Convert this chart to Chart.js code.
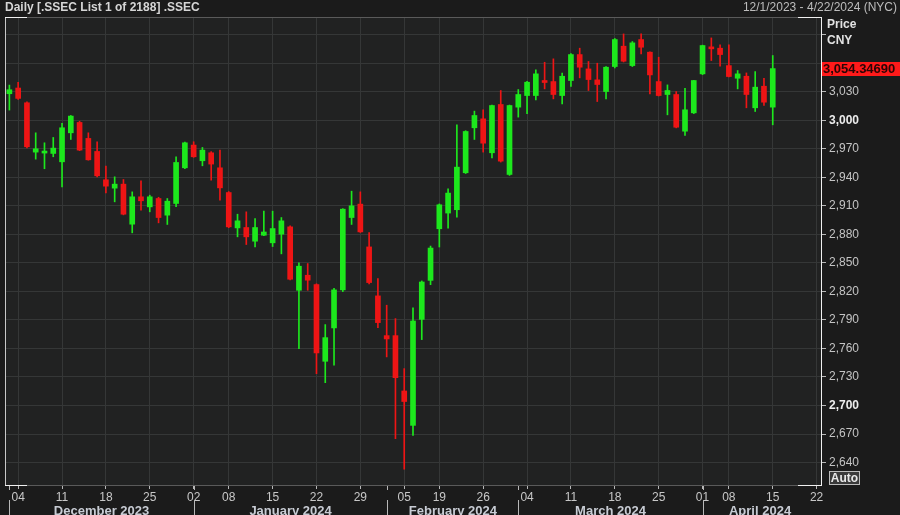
<!DOCTYPE html>
<html>
<head>
<meta charset="utf-8">
<script src="https://cdn.jsdelivr.net/npm/chart.js@4.4.1/dist/chart.umd.min.js"></script>
<style>
html, body { margin: 0; padding: 0; background: #1b1b1b; }
#wrap { width: 900px; height: 515px; }
</style>
</head>
<body>
<div id="wrap"><canvas id="chart" width="900" height="515"></canvas></div>
<script>
const FONT = '"Liberation Sans", Arial, sans-serif';

// trading days on the x axis (the last five are empty space after the last candle)
const dates = [
    '2023-12-01','2023-12-04','2023-12-05','2023-12-06','2023-12-07','2023-12-08','2023-12-11','2023-12-12',
    '2023-12-13','2023-12-14','2023-12-15','2023-12-18','2023-12-19','2023-12-20','2023-12-21','2023-12-22',
    '2023-12-25','2023-12-26','2023-12-27','2023-12-28','2023-12-29',
    '2024-01-02','2024-01-03','2024-01-04','2024-01-05','2024-01-08','2024-01-09','2024-01-10','2024-01-11',
    '2024-01-12','2024-01-15','2024-01-16','2024-01-17','2024-01-18','2024-01-19','2024-01-22','2024-01-23',
    '2024-01-24','2024-01-25','2024-01-26','2024-01-29','2024-01-30','2024-01-31',
    '2024-02-01','2024-02-02','2024-02-05','2024-02-06','2024-02-07','2024-02-08','2024-02-19','2024-02-20',
    '2024-02-21','2024-02-22','2024-02-23','2024-02-26','2024-02-27','2024-02-28','2024-02-29',
    '2024-03-01','2024-03-04','2024-03-05','2024-03-06','2024-03-07','2024-03-08','2024-03-11','2024-03-12',
    '2024-03-13','2024-03-14','2024-03-15','2024-03-18','2024-03-19','2024-03-20','2024-03-21','2024-03-22',
    '2024-03-25','2024-03-26','2024-03-27','2024-03-28','2024-03-29',
    '2024-04-01','2024-04-02','2024-04-03','2024-04-08','2024-04-09','2024-04-10','2024-04-11','2024-04-12',
    '2024-04-15','2024-04-16','2024-04-17','2024-04-18','2024-04-19','2024-04-22'
];

const opens = [
    3027.9, 3033.9, 3018.4, 2966.5, 2965.5, 2965.1, 2956.3, 2986.8, 2997.7, 2980.9, 2967.2, 2937.4, 2928.6, 2932.8,
    2890.7, 2919.5, 2908.9, 2917.7, 2900.2, 2912.5, 2950.0,
    2973.9, 2957.4, 2965.8, 2950.0, 2924.0, 2886.8, 2887.2, 2872.8, 2879.1, 2871.1, 2880.2, 2887.9, 2821.2,
    2837.0, 2827.2, 2746.5, 2781.6, 2821.6, 2897.7, 2911.8, 2866.8, 2815.3,
    2773.5, 2773.5, 2715.3, 2679.1, 2790.6, 2831.6, 2885.9, 2902.4, 2905.9, 2944.8, 2992.1, 3001.5, 2965.8,
    3016.6, 2943.0,
    3013.8, 3026.0, 3026.0, 3041.4, 3040.7, 3026.0, 3041.8, 3069.1, 3054.0, 3042.5, 3030.2, 3056.5, 3077.9,
    3057.5, 3084.9, 3071.6, 3040.7, 3027.1, 3027.1, 2988.5, 3007.8,
    3048.8, 3076.8, 3075.8, 3057.5, 3044.2, 3046.3, 3013.1, 3035.8, 3013.8
];
const highs = [
    3037.0, 3039.8, 3019.5, 2986.8, 2976.3, 2981.9, 2996.7, 3005.0, 2999.0, 2986.8, 2977.4, 2951.8, 2940.5, 2937.7,
    2924.7, 2936.3, 2921.2, 2919.0, 2917.7, 2961.6, 2977.0,
    2977.4, 2971.4, 2967.0, 2968.6, 2925.0, 2901.2, 2903.7, 2896.7, 2904.4, 2904.4, 2897.7, 2889.0, 2850.0,
    2849.3, 2828.0, 2785.1, 2823.3, 2907.0, 2925.4, 2924.7, 2881.9, 2833.5,
    2805.5, 2791.4, 2738.8, 2802.6, 2831.0, 2867.7, 2912.0, 2927.9, 2995.2, 2989.0, 3009.6, 3011.0, 3016.0,
    3031.3, 3016.0,
    3032.3, 3041.0, 3053.0, 3061.0, 3064.6, 3049.5, 3070.0, 3075.8, 3061.8, 3060.0, 3056.5, 3086.0, 3090.8,
    3082.8, 3090.8, 3072.0, 3066.3, 3037.2, 3030.2, 3033.7, 3042.0,
    3079.0, 3086.6, 3079.3, 3079.3, 3052.3, 3049.8, 3051.2, 3044.2, 3068.1
];
const lows = [
    3010.7, 3021.9, 2971.0, 2959.1, 2949.0, 2961.6, 2930.0, 2979.8, 2968.0, 2958.0, 2940.5, 2923.7, 2914.2, 2900.5,
    2881.6, 2905.4, 2903.7, 2892.1, 2890.4, 2909.0, 2949.0,
    2961.0, 2952.1, 2937.0, 2916.0, 2887.0, 2877.4, 2869.3, 2866.8, 2878.5, 2867.2, 2859.5, 2832.0, 2759.8,
    2821.2, 2733.5, 2724.0, 2742.3, 2819.8, 2890.4, 2882.0, 2828.0, 2781.9,
    2751.1, 2665.1, 2633.0, 2668.6, 2769.3, 2827.1, 2866.7, 2886.6, 2898.2, 2944.0, 2979.8, 2966.5, 2960.5,
    2956.0, 2942.0,
    3003.3, 3006.8, 3021.5, 3033.0, 3022.5, 3017.3, 3035.5, 3044.6, 3031.3, 3019.7, 3022.5, 3055.0, 3061.3,
    3056.5, 3069.8, 3027.8, 3025.5, 3005.7, 2992.0, 2984.0, 3007.0,
    3048.0, 3062.8, 3056.8, 3045.5, 3033.0, 3013.1, 3009.2, 3015.5, 2995.2
];
const closes = [
    3032.1, 3023.0, 2972.1, 2970.0, 2967.5, 2970.7, 2992.1, 3004.4, 2968.6, 2958.4, 2941.6, 2930.7, 2932.8, 2901.2,
    2919.5, 2915.3, 2919.5, 2897.7, 2914.9, 2955.6, 2976.3,
    2961.6, 2968.6, 2953.9, 2928.9, 2887.9, 2894.2, 2877.4, 2887.2, 2882.5, 2886.1, 2894.2, 2832.8, 2846.5,
    2831.8, 2755.3, 2771.4, 2821.6, 2906.5, 2910.0, 2882.6, 2829.3, 2787.2,
    2770.0, 2729.3, 2704.2, 2788.9, 2829.9, 2865.6, 2911.1, 2923.4, 2950.7, 2988.2, 3005.0, 2975.9, 3015.5,
    2957.0, 3015.5,
    3027.1, 3040.0, 3048.8, 3039.7, 3027.1, 3046.3, 3069.1, 3055.8, 3042.8, 3037.6, 3055.8, 3084.9, 3062.1,
    3081.4, 3076.8, 3047.7, 3026.0, 3031.3, 2992.7, 3011.0, 3041.8,
    3078.6, 3075.1, 3069.1, 3046.0, 3048.8, 3027.1, 3034.8, 3019.0, 3054.3469
];

const priceTicks = [2640, 2670, 2700, 2730, 2760, 2790, 2820, 2850, 2880, 2910, 2940, 2970, 3000, 3030, 3060, 3090];
const tickDays = [
    '2023-12-04','2023-12-11','2023-12-18','2023-12-25','2024-01-02','2024-01-08','2024-01-15','2024-01-22',
    '2024-01-29','2024-02-05','2024-02-19','2024-02-26','2024-03-04','2024-03-11','2024-03-18','2024-03-25',
    '2024-04-01','2024-04-08','2024-04-15','2024-04-22'
];
const months = ['December 2023', 'January 2024', 'February 2024', 'March 2024', 'April 2024'];
const monthStarts = ['2023-12-01', '2024-01-02', '2024-02-01', '2024-03-01', '2024-04-01'];

const UP = '#1de81d';
const DOWN = '#ee1515';
const candleColors = dates.map((d, i) => i < closes.length && closes[i] < opens[i] ? DOWN : UP);

const frame = {
    id: 'frame',
    beforeDraw: chart => {
        const ctx = chart.ctx, a = chart.chartArea;
        ctx.save();
        ctx.fillStyle = '#1b1b1b';
        ctx.fillRect(0, 0, chart.width, chart.height);
        ctx.fillStyle = '#212222';
        ctx.fillRect(a.left, a.top, a.right - a.left, a.bottom - a.top);
        ctx.restore();
    },
    afterDraw: chart => {
        const ctx = chart.ctx, a = chart.chartArea, xs = chart.scales.x, ys = chart.scales.y;
        ctx.save();
        ctx.lineWidth = 1;
        // plot border
        ctx.strokeStyle = '#5a5a5a';
        ctx.beginPath();
        ctx.moveTo(a.left, a.top + 0.5); ctx.lineTo(a.right, a.top + 0.5);
        ctx.moveTo(a.left, a.bottom + 0.5); ctx.lineTo(a.right, a.bottom + 0.5);
        ctx.stroke();
        ctx.strokeStyle = '#c8c8c8';
        ctx.beginPath();
        ctx.moveTo(a.left + 0.5, a.top); ctx.lineTo(a.left + 0.5, a.bottom + 1);
        ctx.stroke();
        ctx.strokeStyle = '#f0f0f0';
        ctx.beginPath();
        ctx.moveTo(a.right + 0.5, a.top); ctx.lineTo(a.right + 0.5, a.bottom + 1);
        ctx.moveTo(a.left, a.top + 0.5); ctx.lineTo(a.left + 22, a.top + 0.5);
        ctx.moveTo(a.left, a.bottom + 0.5); ctx.lineTo(a.left + 22, a.bottom + 0.5);
        ctx.moveTo(a.right - 23, a.bottom + 0.5); ctx.lineTo(a.right + 1, a.bottom + 0.5);
        ctx.moveTo(a.right - 23, a.top + 0.5); ctx.lineTo(a.right + 1, a.top + 0.5);
        ctx.stroke();

        // month row
        ctx.strokeStyle = '#b8b8b8';
        ctx.fillStyle = '#c8ccd4';
        ctx.font = 'bold 13px ' + FONT;
        ctx.textAlign = 'center';
        ctx.textBaseline = 'middle';
        monthStarts.forEach((m, k) => {
            const i0 = dates.indexOf(m);
            const i1 = k + 1 < monthStarts.length ? dates.indexOf(monthStarts[k + 1]) : dates.length - 1;
            const x0 = Math.round(xs.getPixelForValue(i0)) + 0.5;
            const x1 = xs.getPixelForValue(i1);
            ctx.beginPath();
            ctx.moveTo(x0, a.bottom + 1); ctx.lineTo(x0, a.bottom + 5);
            ctx.moveTo(x0, a.bottom + 15); ctx.lineTo(x0, chart.height);
            ctx.stroke();
            ctx.fillText(months[k], (x0 + x1) / 2, a.bottom + 26);
        });

        // header texts
        ctx.textBaseline = 'middle';
        ctx.textAlign = 'left';
        ctx.fillStyle = '#d6d6d6';
        ctx.font = 'bold 12px ' + FONT;
        ctx.fillText('Daily [.SSEC List 1 of 2188] .SSEC', 5, 8);
        ctx.font = '12px ' + FONT;
        ctx.textAlign = 'right';
        ctx.fillStyle = '#bdbdbd';
        ctx.fillText('12/1/2023 - 4/22/2024 (NYC)', 897, 8);
        ctx.font = 'bold 12px ' + FONT;
        ctx.textAlign = 'left';
        ctx.fillStyle = '#e2e2e2';
        ctx.fillText('Price', 827, 25);
        ctx.fillText('CNY', 827, 41);

        // last price tag
        const last = closes[closes.length - 1];
        const py = Math.round(ys.getPixelForValue(last));
        ctx.fillStyle = '#ff1a1a';
        ctx.fillRect(a.right + 1, py - 7, chart.width - a.right - 1, 14);
        ctx.fillStyle = '#2a0505';
        ctx.font = 'bold 13px ' + FONT;
        ctx.fillText(last.toLocaleString('en-US', { minimumFractionDigits: 5 }), a.right + 2, py + 0.5);

        // Auto button
        ctx.fillStyle = '#3a3a3a';
        ctx.fillRect(829, 472, 30, 13);
        ctx.strokeStyle = '#bcbcbc';
        ctx.strokeRect(829.5, 471.5, 30, 13);
        ctx.fillStyle = '#e8e8e8';
        ctx.font = 'bold 12px ' + FONT;
        ctx.textAlign = 'center';
        ctx.fillText('Auto', 844.5, 478.5);
        ctx.restore();
    }
};

new Chart(document.getElementById('chart'), {
    type: 'bar',
    plugins: [frame],
    data: {
        labels: dates,
        datasets: [
            {
                label: 'High-Low',
                data: dates.map((d, i) => i < closes.length ? [lows[i], highs[i]] : null),
                backgroundColor: candleColors,
                borderWidth: 0,
                barThickness: 1,
                grouped: false
            },
            {
                label: 'Open-Close',
                data: dates.map((d, i) => i < closes.length ? [opens[i], closes[i]] : null),
                backgroundColor: candleColors,
                borderWidth: 0,
                barThickness: 5,
                minBarLength: 2,
                grouped: false
            }
        ]
    },
    options: {
        responsive: false,
        animation: false,
        layout: { padding: { left: 5, top: 17, right: 0, bottom: 0 } },
        plugins: {
            legend: { display: false },
            tooltip: { enabled: false },
            title: { display: false }
        },
        scales: {
            x: {
                type: 'category',
                offset: true,
                border: { display: false },
                grid: { offset: false, color: '#353737', tickLength: 4, tickColor: '#b8b8b8' },
                ticks: {
                    autoSkip: false,
                    maxRotation: 0,
                    padding: 1,
                    color: '#c8c8c8',
                    font: { size: 12, family: FONT },
                    callback: v => dates[v].slice(8)
                },
                afterBuildTicks: axis => {
                    axis.ticks = axis.ticks.filter(t => tickDays.includes(dates[t.value]));
                },
                afterFit: axis => { axis.height = 30; }
            },
            y: {
                position: 'right',
                min: 2616.4,
                max: 3108.6,
                border: { display: false },
                grid: { color: '#353737', tickLength: 5, tickColor: '#b8b8b8' },
                ticks: {
                    padding: 3,
                    color: c => c.tick && c.tick.value % 300 === 0 ? '#ececec' : '#c4c4c4',
                    font: c => ({ size: 12, family: FONT, weight: c.tick && c.tick.value % 300 === 0 ? 'bold' : 'normal' }),
                    callback: v => v > 3030 ? '' : v.toLocaleString('en-US')
                },
                afterBuildTicks: axis => {
                    axis.ticks = priceTicks.map(v => ({ value: v }));
                },
                afterFit: axis => { axis.width = 79; }
            }
        }
    }
});
</script>
</body>
</html>
